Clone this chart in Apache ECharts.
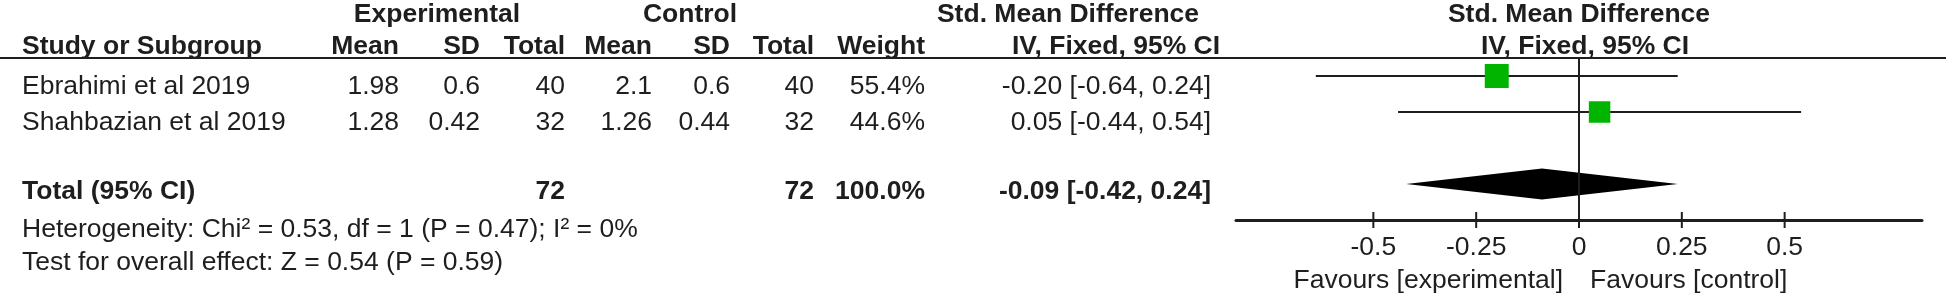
<!DOCTYPE html>
<html>
<head>
<meta charset="utf-8">
<script src="https://cdn.jsdelivr.net/npm/echarts@6/dist/echarts.min.js"></script>
<style>
html,body{margin:0;padding:0;background:#ffffff;}
#chart{width:1949px;height:298px;}
</style>
</head>
<body>
<div id="chart"></div>
<script>
// ---------------- data ----------------
const studies   = ['Ebrahimi et al 2019', 'Shahbazian et al 2019'];
const expMean   = [1.98, 1.28];
const expSD     = [0.6, 0.42];
const expTotal  = [40, 32];
const ctlMean   = [2.1, 1.26];
const ctlSD     = [0.6, 0.44];
const ctlTotal  = [40, 32];
const weights   = [55.4, 44.6];
const smd       = [-0.20, 0.05];
const ciLow     = [-0.64, -0.44];
const ciHigh    = [0.24, 0.54];

const totalLabel   = 'Total (95% CI)';
const totalExp     = 72;
const totalCtl     = 72;
const totalWeight  = 100.0;
const totalSmd     = -0.09;
const totalLow     = -0.42;
const totalHigh    = 0.24;

const heterogeneityText = 'Heterogeneity: Chi\u00b2 = 0.53, df = 1 (P = 0.47); I\u00b2 = 0%';
const overallText       = 'Test for overall effect: Z = 0.54 (P = 0.59)';

const tickValues   = [-0.5, -0.25, 0, 0.25, 0.5];
const favoursLeft  = 'Favours [experimental]';
const favoursRight = 'Favours [control]';

// ---------------- layout / style ----------------
const FONT  = '"Liberation Sans", Arial, Helvetica, sans-serif';
const INK   = '#1e1e1e';
const GREEN = '#00b400';
const FS    = 26.5;
const GRID_TOP = 58, GRID_H = 162;
const TICK_HALF = 8;
const ROW_MIN = -0.5, ROW_MAX = 4;
const TOTAL_ROW = 3;
const X_MIN = -0.834, X_MAX = 0.834;
const SQUARE_K = 3.22;     // square side = K * sqrt(weight)
const DIAMOND_HALF_H = 15.5;

// column anchors (pixels within the table grid)
const COL = {
  study:  {x: 22,   align: 'left'},
  eMean:  {x: 399,  align: 'right'},
  eSD:    {x: 480,  align: 'right'},
  eN:     {x: 565,  align: 'right'},
  cMean:  {x: 652,  align: 'right'},
  cSD:    {x: 730,  align: 'right'},
  cN:     {x: 814,  align: 'right'},
  w:      {x: 925,  align: 'right'},
  ci:     {x: 1211, align: 'right'},
  gExp:   {x: 437,  align: 'center'},
  gCtl:   {x: 690,  align: 'center'},
  hSmd:   {x: 1068, align: 'center'},
  hIV:    {x: 1116, align: 'center'},
  pSmd:   {x: 1579, align: 'center'},
  pIV:    {x: 1585, align: 'center'}
};

function fmtCI(e, l, h) {
  return e.toFixed(2) + ' [' + l.toFixed(2) + ', ' + h.toFixed(2) + ']';
}

// build table cells
const cells = [];
function cell(col, row, dy, text, bold) {
  cells.push({x: COL[col].x, align: COL[col].align, row: row, dy: dy, text: String(text), bold: !!bold});
}
// header row 1 (above the rule)
cell('gExp', ROW_MIN, -43.5, 'Experimental', true);
cell('gCtl', ROW_MIN, -43.5, 'Control', true);
cell('hSmd', ROW_MIN, -43.5, 'Std. Mean Difference', true);
cell('pSmd', ROW_MIN, -43.5, 'Std. Mean Difference', true);
// header row 2
const H2 = -11.5;
cell('study', ROW_MIN, H2, 'Study or Subgroup', true);
cell('eMean', ROW_MIN, H2, 'Mean', true);
cell('eSD',   ROW_MIN, H2, 'SD', true);
cell('eN',    ROW_MIN, H2, 'Total', true);
cell('cMean', ROW_MIN, H2, 'Mean', true);
cell('cSD',   ROW_MIN, H2, 'SD', true);
cell('cN',    ROW_MIN, H2, 'Total', true);
cell('w',     ROW_MIN, H2, 'Weight', true);
cell('hIV',   ROW_MIN, H2, 'IV, Fixed, 95% CI', true);
cell('pIV',   ROW_MIN, H2, 'IV, Fixed, 95% CI', true);
// study rows
studies.forEach(function (name, i) {
  const dy = 11;
  cell('study', i, dy, name);
  cell('eMean', i, dy, expMean[i]);
  cell('eSD',   i, dy, expSD[i]);
  cell('eN',    i, dy, expTotal[i]);
  cell('cMean', i, dy, ctlMean[i]);
  cell('cSD',   i, dy, ctlSD[i]);
  cell('cN',    i, dy, ctlTotal[i]);
  cell('w',     i, dy, weights[i].toFixed(1) + '%');
  cell('ci',    i, dy, fmtCI(smd[i], ciLow[i], ciHigh[i]));
});
// total row
cell('study', TOTAL_ROW, 8, totalLabel, true);
cell('eN',    TOTAL_ROW, 8, totalExp, true);
cell('cN',    TOTAL_ROW, 8, totalCtl, true);
cell('w',     TOTAL_ROW, 8, totalWeight.toFixed(1) + '%', true);
cell('ci',    TOTAL_ROW, 8, fmtCI(totalSmd, totalLow, totalHigh), true);
// footnotes
cell('study', ROW_MAX, 10, heterogeneityText);
cell('study', ROW_MAX, 43, overallText);

// ---------------- chart ----------------
const chart = echarts.init(document.getElementById('chart'), null, {renderer: 'canvas'});

const studyData = studies.map(function (_, i) { return [smd[i], ciLow[i], ciHigh[i], i, weights[i]]; });
const totalData = [[totalSmd, totalLow, totalHigh, TOTAL_ROW]];
const favoursData = [[0, ROW_MAX, 0], [0, ROW_MAX, 1]];
const tickData = tickValues.map(function (v) { return [v, ROW_MAX]; });

const option = {
  animation: false,
  backgroundColor: '#ffffff',
  textStyle: {fontFamily: FONT},
  grid: [
    {left: 1236, right: 27, top: GRID_TOP, height: GRID_H},
    {left: 0, width: 1949, top: GRID_TOP, height: GRID_H}
  ],
  xAxis: [
    {
      type: 'value', gridIndex: 0, min: X_MIN, max: X_MAX, position: 'bottom',
      axisLine: {show: true, onZero: false, lineStyle: {color: INK, width: 3}},
      axisTick: {show: false},
      axisLabel: {show: true, customValues: tickValues, color: INK, fontSize: FS, fontFamily: FONT, margin: 14,
                  formatter: function (v) { return String(v); }},
      splitLine: {show: false}
    },
    {type: 'value', gridIndex: 1, min: 0, max: 1949, show: false}
  ],
  yAxis: [
    {type: 'value', gridIndex: 0, min: ROW_MIN, max: ROW_MAX, inverse: true, show: false},
    {type: 'value', gridIndex: 1, min: ROW_MIN, max: ROW_MAX, inverse: true, show: false}
  ],
  graphic: [
    {type: 'line', shape: {x1: 0, y1: GRID_TOP, x2: 1946, y2: GRID_TOP}, style: {stroke: INK, lineWidth: 2}, z: 10}
  ],
  series: [
    {
      name: 'studies', type: 'custom', xAxisIndex: 0, yAxisIndex: 0, clip: false, z: 5,
      data: studyData,
      renderItem: function (params, api) {
        const row = api.value(3);
        const a = api.coord([api.value(1), row]);
        const b = api.coord([api.value(2), row]);
        const c = api.coord([api.value(0), row]);
        const s = SQUARE_K * Math.sqrt(api.value(4));
        return {type: 'group', children: [
          {type: 'line', shape: {x1: a[0], y1: a[1], x2: b[0], y2: b[1]}, style: {stroke: INK, lineWidth: 2}},
          {type: 'rect', shape: {x: c[0] - s / 2, y: c[1] - s / 2, width: s, height: s}, style: {fill: GREEN}}
        ]};
      },
      markLine: {
        silent: true, symbol: 'none', animation: false,
        label: {show: false},
        lineStyle: {color: INK, width: 2, type: 'solid'},
        data: [{xAxis: 0}]
      }
    },
    {
      name: 'total', type: 'custom', xAxisIndex: 0, yAxisIndex: 0, clip: false, z: 4,
      data: totalData,
      renderItem: function (params, api) {
        const row = api.value(3);
        const l = api.coord([api.value(1), row]);
        const h = api.coord([api.value(2), row]);
        const e = api.coord([api.value(0), row]);
        return {type: 'polygon', shape: {points: [
          [l[0], l[1]], [e[0], e[1] - DIAMOND_HALF_H], [h[0], h[1]], [e[0], e[1] + DIAMOND_HALF_H]
        ]}, style: {fill: '#000000'}};
      }
    },
    {
      name: 'ticks', type: 'custom', xAxisIndex: 0, yAxisIndex: 0, clip: false, z: 6,
      data: tickData,
      renderItem: function (params, api) {
        const p = api.coord([api.value(0), api.value(1)]);
        return {type: 'line', shape: {x1: p[0], y1: p[1] - TICK_HALF, x2: p[0], y2: p[1] + TICK_HALF},
          style: {stroke: INK, lineWidth: 2}};
      }
    },
    {
      name: 'favours', type: 'custom', xAxisIndex: 0, yAxisIndex: 0, clip: false, z: 5,
      data: favoursData,
      renderItem: function (params, api) {
        const p = api.coord([api.value(0), api.value(1)]);
        const left = api.value(2) === 0;
        return {type: 'text', x: p[0] + (left ? -16 : 11), y: p[1] + 61,
          style: {text: left ? favoursLeft : favoursRight, font: FS + 'px ' + FONT, fill: INK,
                  align: left ? 'right' : 'left', verticalAlign: 'middle'}};
      }
    },
    {
      name: 'table', type: 'custom', xAxisIndex: 1, yAxisIndex: 1, clip: false, z: 6,
      data: cells.map(function (c, i) { return [c.x, c.row, i]; }),
      renderItem: function (params, api) {
        const c = cells[api.value(2)];
        const p = api.coord([api.value(0), api.value(1)]);
        return {type: 'text', x: p[0], y: p[1] + c.dy,
          style: {text: c.text, font: (c.bold ? 'bold ' : '') + FS + 'px ' + FONT, fill: INK,
                  align: c.align, verticalAlign: 'middle'}};
      }
    }
  ]
};
chart.setOption(option);
</script>
</body>
</html>
